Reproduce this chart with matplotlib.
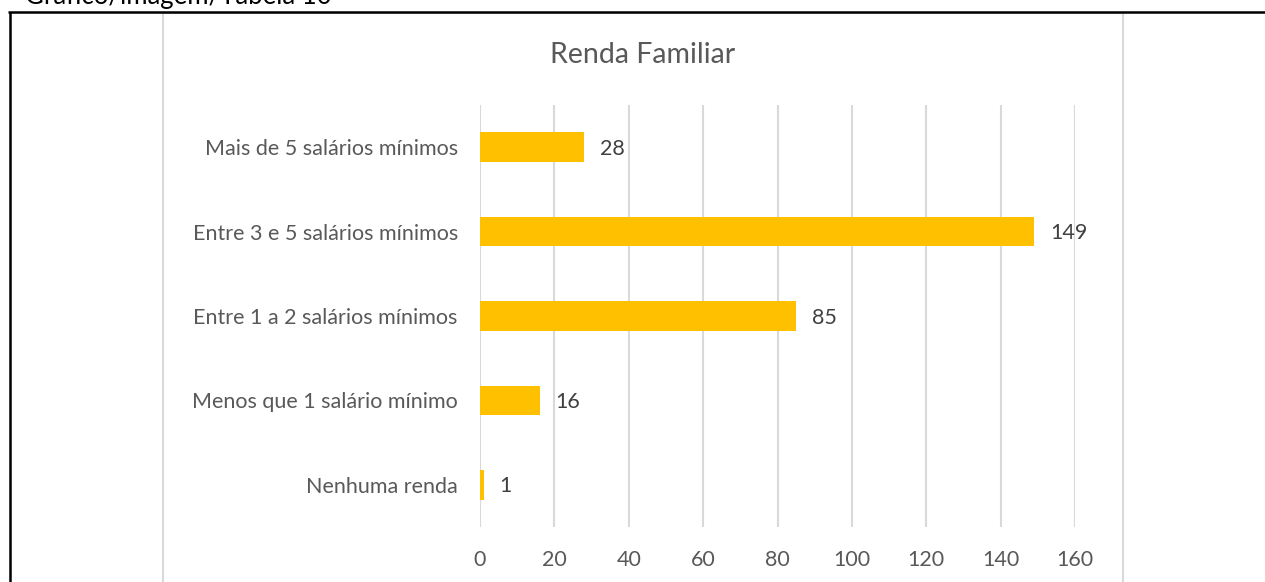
import matplotlib
matplotlib.use("Agg")
import matplotlib.pyplot as plt
from matplotlib.lines import Line2D

categories = ["Nenhuma renda", "Menos que 1 salário mínimo", "Entre 1 a 2 salários mínimos",
              "Entre 3 e 5 salários mínimos", "Mais de 5 salários mínimos"]
values = [1, 16, 85, 149, 28]
xticks = [0, 20, 40, 60, 80, 100, 120, 140, 160]
title = "Renda Familiar"
header = "Gráfico/imagem/Tabela 10"

plt.rcParams['font.family'] = ['Lato', 'DejaVu Sans']
W, H = 1265, 582
fig = plt.figure(figsize=(W / 100, H / 100), dpi=100)

def fx(px):
    return px / W

def fy(py):
    return 1 - py / H

ax = fig.add_axes([fx(480), fy(527), fx(1075) - fx(480), fy(105) - fy(527)])
txt = "#595959"
ypos = list(range(len(categories)))
ax.barh(ypos, values, height=0.35, color="#FFC000", zorder=3)
for y, v in zip(ypos, values):
    ax.text(v + 4.3, y - 0.02, str(v), va="center", ha="left", fontsize=15.5, color="#404040")
ax.set_xlim(0, 160)
ax.set_ylim(-0.5, len(categories) - 0.5)
ax.set_xticks(xticks)
ax.set_yticks(ypos)
ax.set_yticklabels(categories)
ax.tick_params(axis="both", length=0, labelsize=15.5, colors=txt)
ax.tick_params(axis="x", pad=16.5)
ax.tick_params(axis="y", pad=16)
ax.grid(axis="x", color="#d9d9d9", linewidth=1.5, zorder=0)
for s in ax.spines.values():
    s.set_visible(False)

fig.text(fx(643), fy(55), title, ha="center", va="center", fontsize=20.5, color=txt)
fig.text(fx(25), fy(4), header, ha="left", va="baseline", fontsize=18.5, color="black")

# chart frame (gray)
gray = "#d9d9d9"
fig.add_artist(Line2D([fx(163), fx(1123)], [fy(13), fy(13)], color=gray, lw=1.5))
fig.add_artist(Line2D([fx(163), fx(163)], [fy(13), 0], color=gray, lw=1.5))
fig.add_artist(Line2D([fx(1123), fx(1123)], [fy(13), 0], color=gray, lw=1.5))
# page table frame (black)
fig.add_artist(Line2D([fx(8), 1], [fy(11.5), fy(11.5)], color="black", lw=1.8,
                      solid_capstyle="butt"))
fig.add_artist(Line2D([fx(9.5), fx(9.5)], [fy(11.5), 0], color="black", lw=1.8,
                      solid_capstyle="butt"))

fig.savefig("out.png", dpi=100)
